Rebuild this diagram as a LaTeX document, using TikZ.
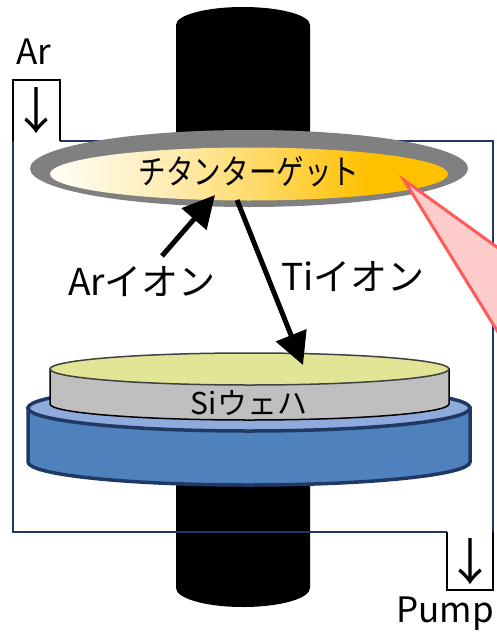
\documentclass[tikz,border=0pt]{standalone}
\usepackage{fontspec}
\setmainfont{Noto Sans CJK JP}
\usetikzlibrary{arrows.meta}

\definecolor{navy}{HTML}{1F3864}
\definecolor{gold}{HTML}{FFC000}
\definecolor{steel}{HTML}{4F81BD}
\definecolor{paleblue}{HTML}{8FAADC}
\definecolor{waferface}{HTML}{E2E496}
\definecolor{waferside}{HTML}{BFBFBF}
\definecolor{beamfill}{HTML}{FFCCCC}
\definecolor{beamline}{HTML}{FF5B5B}

\pgfdeclarehorizontalshading{targetglow}{100bp}{color(0bp)=(white); color(25bp)=(white!97!gold); color(40bp)=(white!70!gold); color(53bp)=(white!35!gold); color(65bp)=(gold); color(100bp)=(gold)}

\tikzstyle{wall}=[draw=navy,line width=2.5pt]
\tikzstyle{port}=[draw=black,line width=2.5pt,fill=white]
\tikzstyle{ion}=[line width=5pt,-{Triangle[length=32pt,width=32pt]}]
\tikzstyle{lbl}=[inner sep=0pt,font=\fontsize{37}{40}\selectfont]
\tikzstyle{small}=[inner sep=0pt,font=\fontsize{30}{34}\selectfont]
\tikzstyle{flow}=[inner sep=0pt,font=\fontsize{50}{50}\selectfont]

\begin{document}
\begin{tikzpicture}[x=1pt,y=-1pt]
	\useasboundingbox (0,0) rectangle (497,637);
	\clip (0,0) rectangle (497,637);
	\draw[wall] (60,141) -- (493,141) -- (493,532);
	\draw[wall] (447,532) -- (13,532) -- (13,141);
	\fill[black] (176,140) -- (176,25) arc[start angle=180,end angle=0,x radius=67pt,y radius=18pt] -- (310,140) -- cycle;
	\fill[black] (176,470) -- (176,588) arc[start angle=180,end angle=360,x radius=67pt,y radius=19pt] -- (310,470) -- cycle;
	\draw[wall] (176,532) -- (310,532);
	\fill[black!50] (249,168.5) ellipse[x radius=219pt,y radius=38.5pt];
	\shade[shading=targetglow] (249,174) ellipse[x radius=199pt,y radius=26.5pt];
	\node[small,font=\fontsize{34}{38}\selectfont] (target) at (249,172) {\scalebox{0.81}[1]{チタンターゲット}};
	\draw[navy,line width=3.5pt,fill=steel] (28,408) -- (28,462) arc[start angle=180,end angle=360,x radius=221pt,y radius=23pt] -- (470,408) -- cycle;
	\draw[navy,line width=3.5pt,fill=paleblue] (249,408) ellipse[x radius=221pt,y radius=23pt];
	\draw[black,line width=1.5pt,fill=waferside] (50,369) -- (50,404) arc[start angle=180,end angle=360,x radius=199.5pt,y radius=16pt] -- (449,369) -- cycle;
	\draw[black!75,line width=1.5pt,fill=waferface] (249.5,369) ellipse[x radius=199.5pt,y radius=16pt];
	\node[small] (wafer) at (249,403) {Siウェハ};
	\coordinate (arTail) at (162,256);
	\coordinate (arHit) at (215,195);
	\coordinate (tiStart) at (237,200);
	\coordinate (tiHit) at (303,365);
	\draw[ion] (arTail) -- (arHit);
	\draw[ion] (tiStart) -- (tiHit);
	\node[lbl] (arion) at (142,282) {Arイオン};
	\node[lbl] (tiion) at (353,277) {Tiイオン};
	\draw[port] (13,141) -- (13,80) -- (60,80) -- (60,141);
	\node[flow] (arin) at (37,111) {↓};
	\node[lbl,font=\fontsize{35}{38}\selectfont] (arname) at (34,52) {Ar};
	\draw[port] (447,532) -- (447,590) -- (493,590) -- (493,532);
	\node[flow] (pumpout) at (470,562) {↓};
	\node[lbl,font=\fontsize{35}{38}\selectfont] (pumpname) at (445,614) {Pump};
	\draw[beamline,line width=3pt,fill=beamfill] (404,180) -- (530,271) -- (530,384) -- cycle;
\end{tikzpicture}
\end{document}
